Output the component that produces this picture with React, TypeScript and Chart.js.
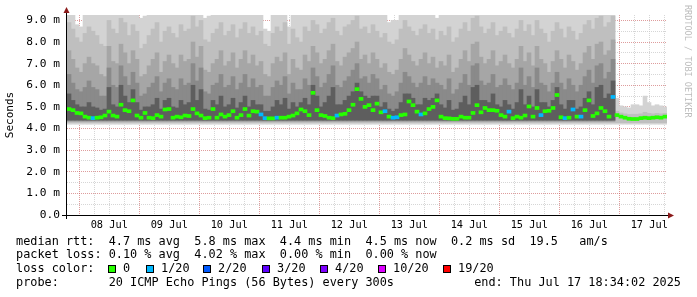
import React, { useEffect, useRef } from 'react';
import { Chart, registerables } from 'chart.js';

Chart.register(...registerables);

// Time axis: hours relative to 08 Jul 00:00; left edge of the graph and column step
const START_HOUR = -4.9;
const SPAN_HOURS = 240;
const STEP_HOURS = 1.6;

const DAY_LABELS = ['08 Jul', '09 Jul', '10 Jul', '11 Jul', '12 Jul', '13 Jul', '14 Jul', '15 Jul', '16 Jul', '17 Jul'];

// median rtt per column (ms)
const MEDIAN = [
  4.90, 4.85, 4.72, 4.70, 4.55, 4.50, 4.48, 4.50, 4.52, 4.60,
  4.78, 4.60, 4.55, 5.10, 4.85, 4.80, 5.30, 4.60, 4.50, 4.72,
  4.50, 4.48, 4.62, 4.55, 4.88, 4.90, 4.50, 4.55, 4.52, 4.60,
  4.58, 4.90, 4.70, 4.60, 4.48, 4.50, 4.90, 4.50, 4.65, 4.55,
  4.62, 4.80, 4.50, 4.62, 4.90, 4.60, 4.80, 4.78, 4.65, 4.48,
  4.47, 4.47, 4.50, 4.50, 4.50, 4.55, 4.60, 4.70, 4.88, 4.80,
  4.62, 5.65, 4.85, 4.62, 4.58, 4.50, 4.48, 4.60, 4.65, 4.68,
  4.85, 5.10, 5.82, 5.37, 5.00, 5.08, 4.85, 5.15, 4.75, 4.80,
  4.55, 4.50, 4.52, 4.62, 4.65, 5.25, 5.08, 4.78, 4.65, 4.70,
  4.90, 5.00, 5.30, 4.55, 4.48, 4.47, 4.45, 4.45, 4.55, 4.50,
  4.50, 4.72, 5.08, 4.75, 4.95, 4.85, 4.85, 4.82, 4.62, 4.55,
  4.78, 4.48, 4.55, 4.50, 4.60, 5.02, 4.55, 4.95, 4.62, 4.80,
  4.82, 4.95, 5.55, 4.52, 4.48, 4.50, 4.88, 4.55, 4.55, 4.85,
  5.30, 4.58, 4.70, 4.95, 4.80, 4.55, 5.46, 4.62, 4.55, 4.50,
  4.45, 4.44, 4.44, 4.48, 4.50, 4.48, 4.50, 4.52, 4.50, 4.55,
];

// columns whose loss was 1/20 (all others 0)
const LOSS_1_20 = [6, 48, 49, 52, 67, 79, 81, 82, 88, 110, 118, 124, 126, 128, 136];

// smoke: upper edges of the ping-distribution bands (ms), outermost first
const SMOKE_MAX = [
  9.6, 9.6, 8.8, 8.7, 9.6, 9.6, 9.6, 9.6, 9.3, 9.6,
  9.6, 9.6, 9.6, 9.6, 9.6, 9.6, 9.6, 9.6, 9.1, 9.2,
  9.6, 9.6, 9.6, 9.6, 9.6, 9.6, 9.6, 9.6, 9.6, 9.6,
  9.6, 9.6, 9.6, 9.6, 9.1, 9.2, 9.6, 9.6, 9.6, 9.6,
  9.6, 9.6, 9.6, 9.6, 9.6, 9.6, 9.6, 9.6, 9.6, 8.6,
  8.5, 9.6, 9.6, 9.6, 9.6, 8.7, 9.6, 9.6, 9.6, 9.6,
  9.6, 9.6, 9.6, 9.6, 9.6, 9.6, 9.6, 9.6, 9.6, 9.6,
  9.6, 9.6, 9.6, 9.6, 9.6, 9.6, 9.6, 9.6, 9.6, 9.6,
  8.9, 9.0, 9.0, 9.6, 9.6, 9.6, 9.6, 9.6, 9.6, 9.6,
  9.6, 9.6, 9.1, 9.6, 9.6, 9.6, 9.6, 9.6, 9.6, 9.6,
  9.6, 9.6, 9.6, 9.6, 9.6, 9.6, 9.6, 9.6, 9.6, 9.6,
  9.6, 9.6, 9.6, 9.6, 9.6, 9.6, 9.6, 9.6, 9.6, 9.6,
  9.6, 9.6, 9.6, 9.6, 9.6, 9.6, 9.6, 9.6, 9.6, 9.6,
  9.6, 9.6, 9.6, 9.6, 9.6, 9.6, 9.6, 5.40, 5.05, 5.00,
  4.95, 5.10, 5.10, 5.05, 5.50, 5.20, 5.05, 5.10, 5.05, 5.00,
];

const SMOKE_P90 = [
  8.9, 8.6, 8.2, 8.0, 8.4, 8.7, 8.5, 8.3, 7.9, 7.8,
  9.0, 8.6, 8.4, 9.1, 8.9, 8.3, 8.8, 8.5, 7.7, 7.9,
  8.3, 8.6, 8.9, 8.0, 8.5, 8.7, 8.4, 8.2, 8.8, 8.5,
  8.6, 9.2, 8.7, 9.0, 8.1, 8.0, 8.4, 8.6, 8.9, 8.3,
  8.5, 8.8, 8.2, 8.6, 8.9, 8.4, 8.7, 8.3, 8.5, 7.9,
  7.8, 8.4, 8.7, 8.5, 8.9, 7.9, 8.6, 8.2, 8.0, 8.7,
  8.5, 9.0, 8.8, 8.4, 8.6, 8.9, 9.1, 8.5, 8.3, 8.7,
  8.8, 9.0, 9.2, 8.6, 8.7, 8.4, 8.8, 8.5, 8.2, 8.4,
  8.0, 7.9, 8.1, 8.6, 9.0, 8.7, 8.5, 8.3, 8.6, 8.8,
  8.4, 8.6, 8.1, 8.5, 8.3, 8.7, 8.0, 8.2, 8.6, 8.9,
  8.5, 9.1, 9.2, 8.7, 8.4, 8.6, 8.9, 8.3, 8.5, 8.7,
  8.4, 8.2, 8.6, 9.0, 8.5, 8.8, 8.3, 9.0, 8.6, 8.4,
  8.0, 8.5, 8.9, 8.6, 8.2, 8.7, 8.5, 8.1, 8.4, 8.8,
  9.0, 8.6, 9.1, 9.2, 8.7, 8.9, 9.2, 4.80, 4.72, 4.68,
  4.65, 4.66, 4.66, 4.68, 4.75, 4.70, 4.68, 4.70, 4.68, 4.70,
];

const SMOKE_P75 = [
  7.6, 7.2, 6.8, 6.6, 7.0, 7.3, 7.0, 6.9, 6.5, 6.4,
  7.8, 7.1, 7.0, 7.9, 7.5, 7.0, 7.6, 7.2, 6.4, 6.5,
  6.9, 7.2, 7.5, 6.6, 7.1, 7.4, 7.0, 6.8, 7.4, 7.1,
  7.2, 8.0, 7.3, 7.8, 6.7, 6.6, 7.0, 7.2, 7.6, 6.9,
  7.1, 7.5, 6.8, 7.2, 7.6, 7.0, 7.4, 6.9, 7.1, 6.5,
  6.4, 7.0, 7.3, 7.1, 7.5, 6.5, 7.2, 6.8, 6.7, 7.4,
  7.1, 7.8, 7.5, 7.0, 7.2, 7.6, 7.9, 7.1, 6.9, 7.3,
  7.5, 7.7, 8.0, 7.2, 7.4, 7.0, 7.5, 7.2, 6.8, 7.0,
  6.6, 6.5, 6.7, 7.2, 7.7, 7.4, 7.1, 6.9, 7.2, 7.5,
  7.0, 7.3, 6.8, 7.1, 6.9, 7.4, 6.6, 6.8, 7.2, 7.6,
  7.1, 7.9, 8.0, 7.3, 7.0, 7.2, 7.6, 6.9, 7.1, 7.4,
  7.0, 6.8, 7.2, 7.8, 7.1, 7.5, 6.9, 7.8, 7.2, 7.0,
  6.6, 7.1, 7.6, 7.2, 6.8, 7.4, 7.1, 6.7, 7.0, 7.5,
  7.8, 7.2, 7.9, 8.0, 7.4, 7.6, 8.1,
];

const SMOKE_P60 = [
  6.5, 6.1, 5.8, 5.7, 5.9, 6.2, 5.9, 5.8, 5.5, 5.5,
  6.8, 6.0, 5.9, 6.9, 6.4, 6.0, 6.6, 6.1, 5.5, 5.6,
  5.9, 6.1, 6.4, 5.7, 6.1, 6.3, 5.9, 5.8, 6.3, 6.0,
  6.1, 7.0, 6.2, 6.8, 5.7, 5.6, 6.0, 6.1, 6.5, 5.9,
  6.0, 6.4, 5.8, 6.1, 6.5, 5.9, 6.3, 5.9, 6.0, 5.5,
  5.5, 5.9, 6.2, 6.0, 6.4, 5.6, 6.1, 5.8, 5.8, 6.3,
  6.0, 6.8, 6.4, 5.9, 6.1, 6.5, 6.9, 6.0, 5.9, 6.2,
  6.4, 6.7, 7.0, 6.3, 6.4, 6.1, 6.5, 6.3, 5.8, 6.0,
  5.6, 5.5, 5.7, 6.1, 6.6, 6.4, 6.1, 5.9, 6.1, 6.4,
  6.0, 6.3, 6.1, 6.0, 5.8, 6.3, 5.6, 5.8, 6.1, 6.5,
  6.0, 6.9, 7.0, 6.2, 6.0, 6.1, 6.5, 5.9, 6.0, 6.3,
  6.0, 5.8, 6.1, 6.8, 6.0, 6.4, 5.9, 6.8, 6.1, 6.0,
  5.7, 6.1, 6.6, 6.1, 5.8, 6.3, 6.0, 5.7, 6.0, 6.4,
  6.7, 6.1, 6.9, 7.0, 6.3, 6.6, 7.2,
];

const SMOKE_P50 = [
  5.6, 5.3, 5.1, 5.0, 5.0, 5.2, 5.0, 4.95, 4.85, 4.9,
  5.9, 5.1, 5.0, 6.0, 5.5, 5.2, 5.8, 5.2, 4.85, 5.0,
  5.0, 5.1, 5.4, 4.9, 5.3, 5.4, 5.0, 4.95, 5.3, 5.1,
  5.2, 6.0, 5.3, 5.8, 4.9, 4.85, 5.3, 5.1, 5.5, 5.0,
  5.1, 5.4, 4.95, 5.2, 5.5, 5.0, 5.3, 5.1, 5.1, 4.8,
  4.8, 5.0, 5.3, 5.1, 5.4, 4.9, 5.2, 5.0, 5.2, 5.4,
  5.1, 6.0, 5.5, 5.0, 5.2, 5.5, 5.9, 5.1, 5.1, 5.3,
  5.5, 5.7, 6.1, 5.7, 5.5, 5.4, 5.5, 5.5, 5.0, 5.2,
  4.9, 4.8, 4.9, 5.2, 5.6, 5.6, 5.4, 5.1, 5.1, 5.4,
  5.3, 5.4, 5.6, 5.1, 4.95, 5.3, 4.85, 4.9, 5.2, 5.5,
  5.1, 5.9, 6.0, 5.3, 5.3, 5.2, 5.6, 5.1, 5.0, 5.3,
  5.1, 4.9, 5.2, 5.8, 5.1, 5.5, 5.0, 5.8, 5.2, 5.2,
  5.0, 5.3, 5.9, 5.1, 4.9, 5.3, 5.3, 4.9, 5.0, 5.4,
  5.7, 5.1, 5.9, 6.0, 5.4, 5.6, 6.2,
];

// lowest ping of each band (ms), outermost first
const SMOKE_FLOORS = [4.20, 4.27, 4.32, 4.36, 4.39];

const RTT_LINE = 'median rtt:  4.7 ms avg  5.8 ms max  4.4 ms min  4.5 ms now  0.2 ms sd  19.5   am/s';
const LOSS_LINE = 'packet loss: 0.10 % avg  4.02 % max  0.00 % min  0.00 % now';
const LOSS_LABELS = ['0', '1/20', '2/20', '3/20', '4/20', '10/20', '19/20'];
const LOSS_COLORS = ['#26ff00', '#00b8ff', '#0059ff', '#5e00ff', '#7e00ff', '#dd00ff', '#ff0000'];
const PROBE_LINE = 'probe:       20 ICMP Echo Pings (56 Bytes) every 300s';
const END_LINE = 'end: Thu Jul 17 18:34:02 2025';

const MONO = "'DejaVu Sans Mono', monospace";

const colX = (i: number) => START_HOUR + STEP_HOURS * (i + 0.5);

function band(vals: number[], floor: number, color: string) {
  return {
    type: 'bar' as const,
    data: vals.map((v, i) => ({ x: colX(i), y: [floor, v] })),
    backgroundColor: color,
    borderWidth: 0,
    grouped: false,
    barPercentage: 1,
    categoryPercentage: 1,
    clip: 0,
  };
}

const decor = {
  id: 'decor',
  afterDraw(chart: any) {
    const { ctx, chartArea: a } = chart;
    ctx.save();
    // axes
    ctx.strokeStyle = '#000';
    ctx.lineWidth = 1;
    ctx.beginPath();
    ctx.moveTo(a.left - 0.5, a.bottom + 4);
    ctx.lineTo(a.left - 0.5, a.top - 5);
    ctx.moveTo(a.left - 5, a.bottom + 0.5);
    ctx.lineTo(a.right + 3, a.bottom + 0.5);
    ctx.stroke();
    ctx.fillStyle = '#8b1a1a';
    ctx.beginPath();
    ctx.moveTo(a.left - 0.5, a.top - 8);
    ctx.lineTo(a.left - 3.5, a.top - 2);
    ctx.lineTo(a.left + 2.5, a.top - 2);
    ctx.closePath();
    ctx.fill();
    ctx.beginPath();
    ctx.moveTo(a.right + 7, a.bottom + 0.5);
    ctx.lineTo(a.right + 1, a.bottom - 2.5);
    ctx.lineTo(a.right + 1, a.bottom + 3.5);
    ctx.closePath();
    ctx.fill();

    // watermark
    ctx.save();
    ctx.translate(687, 5);
    ctx.rotate(Math.PI / 2);
    ctx.fillStyle = '#bdbdbd';
    ctx.font = `8.5px ${MONO}`;
    ctx.textBaseline = 'middle';
    ctx.textAlign = 'left';
    ctx.fillText('RRDTOOL / TOBI OETIKER', 0, 0);
    ctx.restore();

    // legend
    ctx.fillStyle = '#000';
    ctx.font = `11.85px ${MONO}`;
    ctx.textBaseline = 'middle';
    ctx.textAlign = 'left';
    ctx.fillText(RTT_LINE, 16, 241.5);
    ctx.fillText(LOSS_LINE, 16, 255.2);
    ctx.fillText('loss color:', 16, 269);
    const boxX = [108, 146, 203, 262, 320, 378, 443];
    LOSS_LABELS.forEach((lab, i) => {
      ctx.fillStyle = LOSS_COLORS[i];
      ctx.fillRect(boxX[i], 265, 8, 8);
      ctx.strokeStyle = '#000';
      ctx.strokeRect(boxX[i] + 0.5, 265.5, 7, 7);
      ctx.fillStyle = '#000';
      ctx.fillText(lab, boxX[i] + 15, 269);
    });
    ctx.fillText(PROBE_LINE, 16, 282.6);
    ctx.textAlign = 'right';
    ctx.fillText(END_LINE, 681, 282.6);
    ctx.restore();
  },
};

export default function App() {
  const ref = useRef<HTMLCanvasElement>(null);
  useEffect(() => {
    document.body.style.margin = '0';
    const lossSet = new Set(LOSS_1_20);
    const medianDs = {
      type: 'bar' as const,
      data: MEDIAN.map((m, i) => ({ x: colX(i), y: [m - 0.07, m + 0.07] })),
      backgroundColor: MEDIAN.map((_, i) => (lossSet.has(i) ? LOSS_COLORS[1] : LOSS_COLORS[0])),
      borderWidth: 0,
      grouped: false,
      barPercentage: 1,
      categoryPercentage: 1,
      clip: 0,
    };
    const majorGrid = 'rgba(200,90,90,0.6)';
    const minorGrid = 'rgba(200,200,200,0.75)';
    const chart = new Chart(ref.current as HTMLCanvasElement, {
      type: 'bar',
      data: {
        datasets: [
          medianDs,
          band(SMOKE_P50, SMOKE_FLOORS[4], '#5e5e5e'),
          band(SMOKE_P60, SMOKE_FLOORS[3], '#8a8a8a'),
          band(SMOKE_P75, SMOKE_FLOORS[2], '#a6a6a6'),
          band(SMOKE_P90, SMOKE_FLOORS[1], '#bfbfbf'),
          band(SMOKE_MAX, SMOKE_FLOORS[0], '#d3d3d3'),
        ] as any,
      },
      options: {
        animation: false,
        responsive: false,
        devicePixelRatio: 1,
        layout: { padding: { left: 0, right: 30, top: 15, bottom: 0 } },
        plugins: { legend: { display: false }, tooltip: { enabled: false } },
        scales: {
          x: {
            type: 'linear',
            min: START_HOUR,
            max: START_HOUR + SPAN_HOURS,
            offset: false,
            z: 1,
            afterFit: (s: any) => { s.height = 82; },
            afterBuildTicks: (s: any) => {
              const t = [];
              for (let h = 0; h < START_HOUR + SPAN_HOURS; h += 6) t.push({ value: h });
              s.ticks = t;
            },
            ticks: {
              autoSkip: false,
              maxRotation: 0,
              padding: 4,
              color: '#000',
              font: { family: MONO, size: 10.3 },
              callback: (v: any) => {
                const h = Number(v);
                return (h - 12) % 24 === 0 ? DAY_LABELS[(h - 12) / 24] : '';
              },
            },
            grid: {
              offset: false,
              drawTicks: false,
              lineWidth: 1,
              color: (c: any) => (c.tick && c.tick.value % 24 === 0 ? majorGrid : minorGrid),
            },
            border: { display: false, dash: [1, 1] },
          },
          y: {
            type: 'linear',
            min: 0,
            max: 9.25,
            z: 1,
            afterFit: (s: any) => { s.width = 67; },
            afterBuildTicks: (s: any) => {
              const t = [];
              for (let v = 0; v <= 9; v += 0.5) t.push({ value: v });
              s.ticks = t;
            },
            ticks: {
              autoSkip: false,
              padding: 7,
              color: '#000',
              font: { family: MONO, size: 11.2 },
              callback: (v: any) => {
                const n = Number(v);
                if (n % 1 !== 0) return '';
                return n === 0 ? '0.0' : n.toFixed(1) + ' m';
              },
            },
            grid: {
              drawTicks: false,
              lineWidth: 1,
              color: (c: any) => (c.tick && c.tick.value % 1 === 0 ? majorGrid : minorGrid),
            },
            border: { display: false, dash: [1, 1] },
            title: {
              display: true,
              text: 'Seconds',
              color: '#000',
              font: { family: MONO, size: 11 },
              padding: { top: 4, bottom: 0 },
            },
          },
        },
      },
      plugins: [decor],
    });
    return () => chart.destroy();
  }, []);
  return <canvas ref={ref} width={697} height={297} style={{ display: 'block', width: 697, height: 297 }} />;
}
